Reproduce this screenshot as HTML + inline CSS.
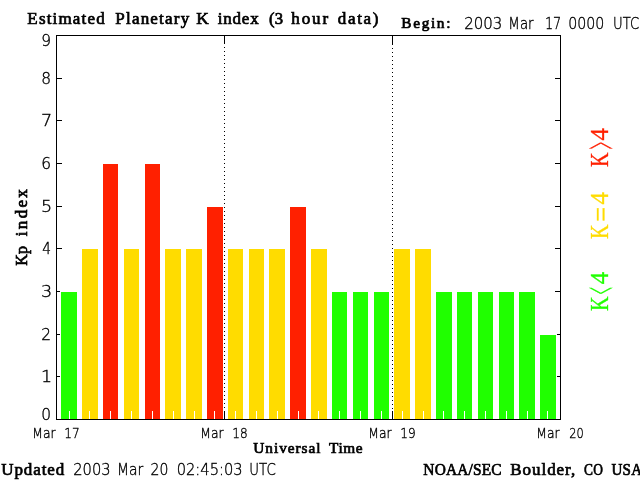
<!DOCTYPE html>
<html lang="en"><head><meta charset="utf-8"><title>Estimated Planetary K index</title>
<style>html,body{margin:0;padding:0;background:#fff}body{width:640px;height:480px;overflow:hidden}svg{display:block}.s{font-family:"DejaVu Sans Light","DejaVu Sans","Liberation Sans",sans-serif;font-weight:200;fill:#000;stroke:#000;stroke-width:0.35px}.b{font-family:"Liberation Serif","DejaVu Serif",serif;font-weight:normal;fill:#000;stroke:#000;stroke-width:0.7px}.c{font-family:"Liberation Serif","DejaVu Serif",serif;font-weight:normal;stroke-width:0.3px}</style></head><body>
<svg width="640" height="480" viewBox="0 0 640 480">
<rect x="0" y="0" width="640" height="480" fill="#fff"/>
<g shape-rendering="crispEdges">
<rect x="56.5" y="35.5" width="504" height="384" fill="none" stroke="#000" stroke-width="1"/>
<rect x="57" y="376" width="5" height="1" fill="#000"/><rect x="555" y="376" width="5" height="1" fill="#000"/>
<rect x="57" y="334" width="5" height="1" fill="#000"/><rect x="555" y="334" width="5" height="1" fill="#000"/>
<rect x="57" y="291" width="5" height="1" fill="#000"/><rect x="555" y="291" width="5" height="1" fill="#000"/>
<rect x="57" y="248" width="5" height="1" fill="#000"/><rect x="555" y="248" width="5" height="1" fill="#000"/>
<rect x="57" y="206" width="5" height="1" fill="#000"/><rect x="555" y="206" width="5" height="1" fill="#000"/>
<rect x="57" y="163" width="5" height="1" fill="#000"/><rect x="555" y="163" width="5" height="1" fill="#000"/>
<rect x="57" y="120" width="5" height="1" fill="#000"/><rect x="555" y="120" width="5" height="1" fill="#000"/>
<rect x="57" y="78" width="5" height="1" fill="#000"/><rect x="555" y="78" width="5" height="1" fill="#000"/>
<rect x="224" y="36" width="1" height="8" fill="#000"/><rect x="224" y="411" width="1" height="8" fill="#000"/>
<line x1="224.5" y1="47" x2="224.5" y2="409" stroke="#000" stroke-width="1" stroke-dasharray="1 3"/>
<rect x="392" y="36" width="1" height="8" fill="#000"/><rect x="392" y="411" width="1" height="8" fill="#000"/>
<line x1="392.5" y1="44" x2="392.5" y2="409" stroke="#000" stroke-width="1" stroke-dasharray="1 3"/>
<rect x="60" y="291" width="18" height="128" fill="#fff"/>
<rect x="61" y="292" width="16" height="127" fill="#20ff00"/>
<rect x="69" y="411" width="1" height="8" fill="#fff"/>
<rect x="81" y="248" width="18" height="171" fill="#fff"/>
<rect x="82" y="249" width="16" height="170" fill="#ffdc00"/>
<rect x="89" y="411" width="1" height="8" fill="#fff"/>
<rect x="102" y="163" width="17" height="256" fill="#fff"/>
<rect x="103" y="164" width="15" height="255" fill="#ff2000"/>
<rect x="110" y="411" width="1" height="8" fill="#fff"/>
<rect x="123" y="248" width="17" height="171" fill="#fff"/>
<rect x="124" y="249" width="15" height="170" fill="#ffdc00"/>
<rect x="131" y="411" width="1" height="8" fill="#fff"/>
<rect x="144" y="163" width="17" height="256" fill="#fff"/>
<rect x="145" y="164" width="15" height="255" fill="#ff2000"/>
<rect x="152" y="411" width="1" height="8" fill="#fff"/>
<rect x="164" y="248" width="18" height="171" fill="#fff"/>
<rect x="165" y="249" width="16" height="170" fill="#ffdc00"/>
<rect x="173" y="411" width="1" height="8" fill="#fff"/>
<rect x="185" y="248" width="18" height="171" fill="#fff"/>
<rect x="186" y="249" width="16" height="170" fill="#ffdc00"/>
<rect x="194" y="411" width="1" height="8" fill="#fff"/>
<rect x="206" y="206" width="18" height="213" fill="#fff"/>
<rect x="207" y="207" width="16" height="212" fill="#ff2000"/>
<rect x="214" y="411" width="1" height="8" fill="#fff"/>
<rect x="227" y="248" width="17" height="171" fill="#fff"/>
<rect x="228" y="249" width="15" height="170" fill="#ffdc00"/>
<rect x="235" y="411" width="1" height="8" fill="#fff"/>
<rect x="248" y="248" width="17" height="171" fill="#fff"/>
<rect x="249" y="249" width="15" height="170" fill="#ffdc00"/>
<rect x="256" y="411" width="1" height="8" fill="#fff"/>
<rect x="268" y="248" width="18" height="171" fill="#fff"/>
<rect x="269" y="249" width="16" height="170" fill="#ffdc00"/>
<rect x="277" y="411" width="1" height="8" fill="#fff"/>
<rect x="289" y="206" width="18" height="213" fill="#fff"/>
<rect x="290" y="207" width="16" height="212" fill="#ff2000"/>
<rect x="298" y="411" width="1" height="8" fill="#fff"/>
<rect x="310" y="248" width="18" height="171" fill="#fff"/>
<rect x="311" y="249" width="16" height="170" fill="#ffdc00"/>
<rect x="318" y="411" width="1" height="8" fill="#fff"/>
<rect x="331" y="291" width="17" height="128" fill="#fff"/>
<rect x="332" y="292" width="15" height="127" fill="#20ff00"/>
<rect x="339" y="411" width="1" height="8" fill="#fff"/>
<rect x="352" y="291" width="17" height="128" fill="#fff"/>
<rect x="353" y="292" width="15" height="127" fill="#20ff00"/>
<rect x="360" y="411" width="1" height="8" fill="#fff"/>
<rect x="373" y="291" width="17" height="128" fill="#fff"/>
<rect x="374" y="292" width="15" height="127" fill="#20ff00"/>
<rect x="381" y="411" width="1" height="8" fill="#fff"/>
<rect x="393" y="248" width="18" height="171" fill="#fff"/>
<rect x="394" y="249" width="16" height="170" fill="#ffdc00"/>
<rect x="402" y="411" width="1" height="8" fill="#fff"/>
<rect x="414" y="248" width="18" height="171" fill="#fff"/>
<rect x="415" y="249" width="16" height="170" fill="#ffdc00"/>
<rect x="423" y="411" width="1" height="8" fill="#fff"/>
<rect x="435" y="291" width="18" height="128" fill="#fff"/>
<rect x="436" y="292" width="16" height="127" fill="#20ff00"/>
<rect x="443" y="411" width="1" height="8" fill="#fff"/>
<rect x="456" y="291" width="17" height="128" fill="#fff"/>
<rect x="457" y="292" width="15" height="127" fill="#20ff00"/>
<rect x="464" y="411" width="1" height="8" fill="#fff"/>
<rect x="477" y="291" width="17" height="128" fill="#fff"/>
<rect x="478" y="292" width="15" height="127" fill="#20ff00"/>
<rect x="485" y="411" width="1" height="8" fill="#fff"/>
<rect x="498" y="291" width="17" height="128" fill="#fff"/>
<rect x="499" y="292" width="15" height="127" fill="#20ff00"/>
<rect x="506" y="411" width="1" height="8" fill="#fff"/>
<rect x="518" y="291" width="18" height="128" fill="#fff"/>
<rect x="519" y="292" width="16" height="127" fill="#20ff00"/>
<rect x="527" y="411" width="1" height="8" fill="#fff"/>
<rect x="539" y="334" width="18" height="85" fill="#fff"/>
<rect x="540" y="335" width="16" height="84" fill="#20ff00"/>
<rect x="547" y="411" width="1" height="8" fill="#fff"/>
<rect x="56" y="419" width="505" height="1" fill="#000"/>
</g>
<text class="b" x="27.35" y="24" font-size="17" letter-spacing="1.165">Estimated</text>
<text class="b" x="115.35" y="24" font-size="17" letter-spacing="1.200">Planetary</text>
<text class="b" x="196.36" y="24" font-size="17" textLength="12.55" lengthAdjust="spacingAndGlyphs">K</text>
<text class="b" x="217.85" y="24" font-size="17" letter-spacing="0.758">index</text>
<text class="b" transform="translate(269.10,24) scale(0.9809,1)" font-size="17" letter-spacing="0.153">(3</text>
<text class="b" x="291.35" y="24" font-size="17" letter-spacing="1.850">hour</text>
<text class="b" x="337.85" y="24" font-size="17" letter-spacing="1.622">data)</text>
<text class="b" x="401.35" y="28" font-size="15.3" letter-spacing="1.652">Begin:</text>
<text class="s" x="464.17" y="29" font-size="15" textLength="38.19" lengthAdjust="spacingAndGlyphs">2003</text>
<text class="s" x="508.37" y="29" font-size="15" textLength="25.23" lengthAdjust="spacingAndGlyphs">Mar</text>
<text class="s" x="544.90" y="29" font-size="15" textLength="16.27" lengthAdjust="spacingAndGlyphs">17</text>
<text class="s" x="568.22" y="29" font-size="15" textLength="36.13" lengthAdjust="spacingAndGlyphs">0000</text>
<text class="s" x="613.07" y="29" font-size="15" textLength="26.19" lengthAdjust="spacingAndGlyphs">UTC</text>
<text class="s" x="41.15" y="420" font-size="15" textLength="9.83" lengthAdjust="spacingAndGlyphs">0</text>
<text class="s" x="41.03" y="382" font-size="15" textLength="11.17" lengthAdjust="spacingAndGlyphs">1</text>
<text class="s" x="41.15" y="340" font-size="15" textLength="9.83" lengthAdjust="spacingAndGlyphs">2</text>
<text class="s" x="41.03" y="297" font-size="15" textLength="11.17" lengthAdjust="spacingAndGlyphs">3</text>
<text class="s" x="42.16" y="254" font-size="15" textLength="8.78" lengthAdjust="spacingAndGlyphs">4</text>
<text class="s" x="41.03" y="212" font-size="15" textLength="11.17" lengthAdjust="spacingAndGlyphs">5</text>
<text class="s" x="41.15" y="169" font-size="15" textLength="9.83" lengthAdjust="spacingAndGlyphs">6</text>
<text class="s" x="41.03" y="126" font-size="15" textLength="11.17" lengthAdjust="spacingAndGlyphs">7</text>
<text class="s" x="41.15" y="84" font-size="15" textLength="9.83" lengthAdjust="spacingAndGlyphs">8</text>
<text class="s" x="41.15" y="46" font-size="15" textLength="9.83" lengthAdjust="spacingAndGlyphs">9</text>
<text class="s" x="32.26" y="438" font-size="13.7" textLength="23.25" lengthAdjust="spacingAndGlyphs">Mar</text>
<text class="s" x="64.27" y="438" font-size="13.7" textLength="15.40" lengthAdjust="spacingAndGlyphs">17</text>
<text class="s" x="200.26" y="438" font-size="13.7" textLength="23.25" lengthAdjust="spacingAndGlyphs">Mar</text>
<text class="s" x="232.27" y="438" font-size="13.7" textLength="15.40" lengthAdjust="spacingAndGlyphs">18</text>
<text class="s" x="368.26" y="438" font-size="13.7" textLength="23.25" lengthAdjust="spacingAndGlyphs">Mar</text>
<text class="s" x="400.27" y="438" font-size="13.7" textLength="15.40" lengthAdjust="spacingAndGlyphs">19</text>
<text class="s" x="536.26" y="438" font-size="13.7" textLength="23.25" lengthAdjust="spacingAndGlyphs">Mar</text>
<text class="s" x="569.15" y="438" font-size="13.7" textLength="14.50" lengthAdjust="spacingAndGlyphs">20</text>
<text class="b" x="253.35" y="453" font-size="15.3" letter-spacing="0.948">Universal</text>
<text class="b" x="329.10" y="453" font-size="15.3" letter-spacing="0.532">Time</text>
<text class="b" x="1.35" y="475" font-size="17" letter-spacing="0.868">Updated</text>
<text class="s" x="73.19" y="475" font-size="15" textLength="37.40" lengthAdjust="spacingAndGlyphs">2003</text>
<text class="s" x="117.06" y="475" font-size="15" textLength="26.26" lengthAdjust="spacingAndGlyphs">Mar</text>
<text class="s" x="150.48" y="475" font-size="15" textLength="17.87" lengthAdjust="spacingAndGlyphs">20</text>
<text class="s" x="176.69" y="475" font-size="15" textLength="65.90" lengthAdjust="spacingAndGlyphs">02:45:03</text>
<text class="s" x="249.26" y="475" font-size="15" textLength="26.50" lengthAdjust="spacingAndGlyphs">UTC</text>
<text class="b" transform="translate(423.35,475) scale(0.9076,1)" font-size="17" letter-spacing="0.165">NOAA/SEC</text>
<text class="b" x="510.35" y="475" font-size="17" letter-spacing="0.930">Boulder,</text>
<text class="b" transform="translate(584.10,475) scale(0.7884,1)" font-size="17" letter-spacing="0.190">CO</text>
<text class="b" transform="translate(611.60,475) scale(0.8854,1)" font-size="17" letter-spacing="0.169">USA</text>
<g transform="translate(27,266) rotate(-90)">
<text class="b" transform="translate(0.35,0) scale(0.9444,1)" font-size="17" letter-spacing="0.159">Kp</text>
<text class="b" x="29.85" y="0" font-size="17" letter-spacing="2.283">index</text>
</g>
<g transform="translate(608,167) rotate(-90)" fill="#ff2000" stroke="#ff2000">
<text class="c" x="0.12" y="0" font-size="24.5" textLength="14.50" lengthAdjust="spacingAndGlyphs">K</text>
<text class="c" transform="translate(17.72,9.4) scale(0.266,1)" font-size="49">&gt;</text>
<text class="c" x="26.55" y="0" font-size="24.5" textLength="12.45" lengthAdjust="spacingAndGlyphs">4</text>
</g>
<g transform="translate(608,239) rotate(-90)" fill="#ffdc00" stroke="#ffdc00">
<text class="c" x="0.12" y="0" font-size="24.5" textLength="14.50" lengthAdjust="spacingAndGlyphs">K</text>
<text class="c" transform="translate(17.35,3) scale(0.875,1)" font-size="30">=</text>
<text class="c" x="34.40" y="0" font-size="24.5" textLength="12.45" lengthAdjust="spacingAndGlyphs">4</text>
</g>
<g transform="translate(608,311) rotate(-90)" fill="#20ff00" stroke="#20ff00">
<text class="c" x="0.12" y="0" font-size="24.5" textLength="14.50" lengthAdjust="spacingAndGlyphs">K</text>
<text class="c" transform="translate(16.74,9.4) scale(0.255,1)" font-size="49">&lt;</text>
<text class="c" x="26.75" y="0" font-size="24.5" textLength="12.45" lengthAdjust="spacingAndGlyphs">4</text>
</g>
</svg></body></html>
